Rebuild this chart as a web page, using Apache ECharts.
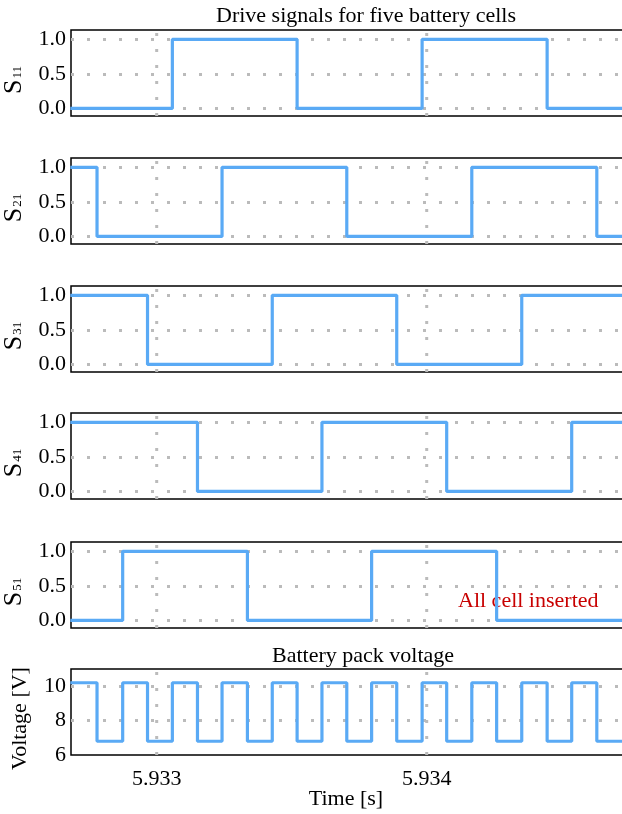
<!DOCTYPE html>
<html>
<head>
<meta charset="utf-8">
<script src="https://cdn.jsdelivr.net/npm/echarts@6/dist/echarts.min.js"></script>
<style>html,body{margin:0;padding:0;background:#fff}#c{width:622px;height:814px}</style>
</head>
<body>
<div id="c"></div>
<script>
// ---- data ----
const xTicks = [5.933, 5.934];
const sTicks = [0, 0.5, 1];
const vTicks = [6, 8, 10];

const s11Time  = [5.932680, 5.933058, 5.933520, 5.933983, 5.934446, 5.934740];
const s11Value = [0, 1, 0, 1, 0, 0];
const s21Time  = [5.932680, 5.932779, 5.933242, 5.933704, 5.934167, 5.934630, 5.934740];
const s21Value = [1, 0, 1, 0, 1, 0, 0];
const s31Time  = [5.932680, 5.932966, 5.933428, 5.933889, 5.934352, 5.934740];
const s31Value = [1, 0, 1, 0, 1, 1];
const s41Time  = [5.932680, 5.933151, 5.933612, 5.934074, 5.934537, 5.934740];
const s41Value = [1, 0, 1, 0, 1, 1];
const s51Time  = [5.932680, 5.932874, 5.933336, 5.933796, 5.934259, 5.934740];
const s51Value = [0, 1, 0, 1, 0, 0];

const vTime  = [5.932680, 5.932779, 5.932874, 5.932966, 5.933058, 5.933151, 5.933242, 5.933336,
                5.933428, 5.933520, 5.933612, 5.933704, 5.933796, 5.933889, 5.933983, 5.934074,
                5.934167, 5.934259, 5.934352, 5.934446, 5.934537, 5.934630, 5.934740];
const vValue = [10.2, 6.8, 10.2, 6.8, 10.2, 6.8, 10.2, 6.8, 10.2, 6.8, 10.2, 6.8,
                10.2, 6.8, 10.2, 6.8, 10.2, 6.8, 10.2, 6.8, 10.2, 6.8, 6.8];

const subNames = ['11', '21', '31', '41', '51'];
const titleTop = 'Drive signals for five battery cells';
const titleBottom = 'Battery pack voltage';
const xLabel = 'Time [s]';
const vLabel = 'Voltage [V]';
const note = 'All cell inserted';

// ---- layout / style ----
const FONT = '"Liberation Serif", "Times New Roman", serif';
const LINE = '#5aaaf5';
const GRIDC = '#bbbbbb';
const xMin = 5.9326826, xMax = 5.9347344;
const sMin = -0.11, sMax = 1.135;
const vMin = 6, vMax = 11;
const tops = [30, 158, 286, 413, 542, 669];
const H = 86;

const sets = [
  [s11Time, s11Value], [s21Time, s21Value], [s31Time, s31Value],
  [s41Time, s41Value], [s51Time, s51Value], [vTime, vValue]
];

const dotStyle = {color: GRIDC, type: [3, 13], width: 3};
const grids = [], xAxes = [], yAxes = [], series = [];
for (let i = 0; i < 6; i++) {
  const isV = i === 5;
  const yMin = isV ? vMin : sMin, yMax = isV ? vMax : sMax;
  grids.push({left: 71, right: -3, top: tops[i], height: H, show: true,
    outerBoundsMode: 'none', containLabel: false,
    borderColor: '#000', borderWidth: 1.5, backgroundColor: 'transparent'});
  xAxes.push({
    type: 'value', gridIndex: i, min: xMin, max: xMax,
    axisLine: {show: false}, axisTick: {show: false, customValues: xTicks},
    splitLine: {show: false},
    axisLabel: isV ? {customValues: xTicks, formatter: v => v.toFixed(3),
      fontSize: 22, fontFamily: FONT, color: '#000', margin: 13} : {show: false}
  });
  const ticks = isV ? vTicks : sTicks;
  yAxes.push({
    type: 'value', gridIndex: i, min: yMin, max: yMax,
    axisLine: {show: false}, axisTick: {show: false, customValues: ticks},
    splitLine: {show: false},
    axisLabel: {customValues: ticks, formatter: v => isV ? String(v) : v.toFixed(1),
      fontSize: 22, fontFamily: FONT, color: '#000', margin: 5},
    name: isV ? vLabel : '{s|S}{b|' + subNames[i] + '}',
    nameLocation: 'middle', nameRotate: 90, nameGap: isV ? 40 : 42,
    nameTextStyle: isV ? {fontSize: 22, fontFamily: FONT, color: '#000', padding: [0, 13, 0, 0]} : {
      color: '#000', fontFamily: FONT,
      rich: {
        s: {fontSize: 26, fontFamily: FONT, color: '#000', lineHeight: 28},
        b: {fontSize: 13, fontFamily: FONT, color: '#000', lineHeight: 28, padding: [5, 14, 0, 1]}
      }
    }
  });
  // vertical dotted grid lines at the x tick values
  xTicks.forEach(v => {
    series.push({
      type: 'line', xAxisIndex: i, yAxisIndex: i, silent: true, animation: false,
      showSymbol: false, symbol: 'none', z: 1, lineStyle: dotStyle,
      data: [[v, yMin], [v, yMax]]
    });
  });
  const gy = isV ? vTicks.filter(v => v > vMin) : sTicks;
  const [tArr, vArr] = sets[i];
  series.push({
    type: 'line', xAxisIndex: i, yAxisIndex: i, step: 'end', showSymbol: false,
    symbol: 'none', animation: false, z: 3,
    lineStyle: {color: LINE, width: 3.2},
    data: tArr.map((t, k) => [t, vArr[k]]),
    markLine: {
      silent: true, symbol: 'none', z: 1, animation: false,
      label: {show: false},
      lineStyle: dotStyle,
      emphasis: {disabled: true},
      data: gy.map(v => ({yAxis: v}))
    }
  });
}

const txt = (x, y, text, color, align) => ({
  type: 'text', x: x, y: y, silent: true,
  style: {text: text, fontSize: 22, fontFamily: FONT, fill: color || '#000',
    align: align || 'center', verticalAlign: 'middle'}
});

const chart = echarts.init(document.getElementById('c'), null, {renderer: 'canvas'});
chart.setOption({
  animation: false,
  backgroundColor: '#fff',
  grid: grids, xAxis: xAxes, yAxis: yAxes, series: series,
  graphic: [
    txt(366, 16.5, titleTop),
    txt(363, 656, titleBottom),
    txt(346, 799, xLabel),
    txt(458, 601, note, '#c80000', 'left')
  ]
});
</script>
</body>
</html>
